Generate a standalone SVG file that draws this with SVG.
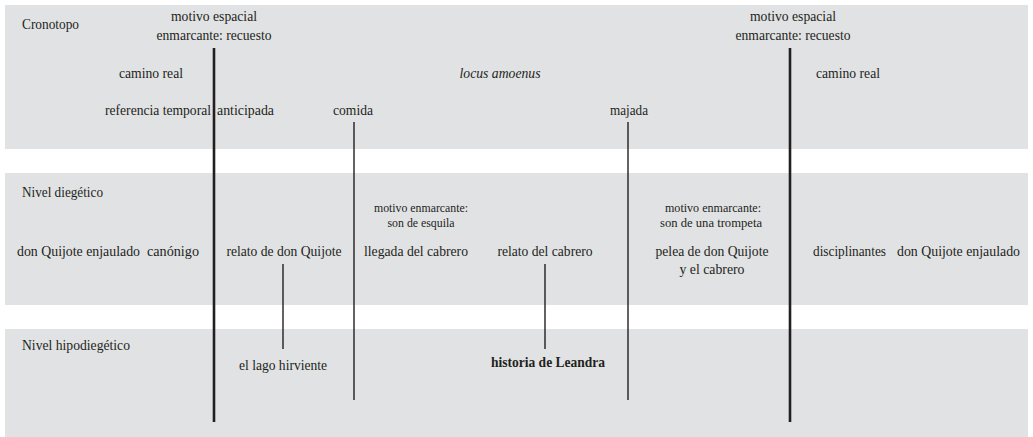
<svg xmlns="http://www.w3.org/2000/svg" width="1033" height="437" viewBox="0 0 1033 437">
<style>
  text { font-family: "Liberation Serif", "Times New Roman", serif; font-size: 14px; fill: #231f20; }
  .m { text-anchor: middle; }
  .s { font-size: 11.5px; }
  .i { font-style: italic; }
  .b { font-weight: bold; }
  .band { fill: #e1e2e4; }
  .thick { stroke: #231f20; stroke-width: 2.6; fill: none; }
  .thin { stroke: #231f20; stroke-width: 1.4; fill: none; }
</style>
<rect width="1033" height="437" fill="#ffffff"/>
<g id="bands">
  <rect class="band" x="5" y="5" width="1023" height="144"/>
  <rect class="band" x="5" y="173" width="1023" height="132"/>
  <rect class="band" x="5" y="329" width="1023" height="108"/>
</g>
<g id="connectors">
  <line class="thick" x1="214" y1="48" x2="214" y2="422"/>
  <line class="thick" x1="790" y1="48" x2="790" y2="422"/>
  <line class="thin" x1="354" y1="122" x2="354" y2="400"/>
  <line class="thin" x1="628" y1="122" x2="628" y2="400"/>
  <line class="thin" x1="283" y1="264" x2="283" y2="349"/>
  <line class="thin" x1="545" y1="264" x2="545" y2="349"/>
</g>
<g id="cronotopo-label"><text x="22" y="29" textLength="57" lengthAdjust="spacingAndGlyphs">Cronotopo</text></g>
<g id="recuesto-1"><text class="m" x="214" y="21" textLength="86" lengthAdjust="spacingAndGlyphs">motivo espacial</text><text class="m" x="214" y="40" textLength="115" lengthAdjust="spacingAndGlyphs">enmarcante: recuesto</text></g>
<g id="recuesto-2"><text class="m" x="793" y="21" textLength="86" lengthAdjust="spacingAndGlyphs">motivo espacial</text><text class="m" x="793" y="40" textLength="115" lengthAdjust="spacingAndGlyphs">enmarcante: recuesto</text></g>
<g id="camino-real-1"><text class="m" x="151" y="78" textLength="64" lengthAdjust="spacingAndGlyphs">camino real</text></g>
<g id="locus-amoenus"><text class="m i" x="500" y="78" textLength="81" lengthAdjust="spacingAndGlyphs">locus amoenus</text></g>
<g id="camino-real-2"><text class="m" x="848" y="78" textLength="64" lengthAdjust="spacingAndGlyphs">camino real</text></g>
<g id="referencia"><text x="105" y="115" textLength="106" lengthAdjust="spacingAndGlyphs">referencia temporal</text><text x="217" y="115" textLength="57" lengthAdjust="spacingAndGlyphs">anticipada</text></g>
<g id="comida"><text class="m" x="353" y="115" textLength="40" lengthAdjust="spacingAndGlyphs">comida</text></g>
<g id="majada"><text class="m" x="629" y="115" textLength="38" lengthAdjust="spacingAndGlyphs">majada</text></g>
<g id="diegetico-label"><text x="22" y="197" textLength="81" lengthAdjust="spacingAndGlyphs">Nivel diegético</text></g>
<g id="quijote-enjaulado-1"><text x="17" y="256" textLength="123" lengthAdjust="spacingAndGlyphs">don Quijote enjaulado</text></g>
<g id="canonigo"><text x="147" y="256" textLength="52" lengthAdjust="spacingAndGlyphs">canónigo</text></g>
<g id="relato-quijote"><text class="m" x="284" y="256" textLength="115" lengthAdjust="spacingAndGlyphs">relato de don Quijote</text></g>
<g id="esquila"><text class="m s" x="421" y="212" textLength="94" lengthAdjust="spacingAndGlyphs">motivo enmarcante:</text><text class="m s" x="421" y="227" textLength="67" lengthAdjust="spacingAndGlyphs">son de esquila</text></g>
<g id="llegada-cabrero"><text class="m" x="416" y="256" textLength="104" lengthAdjust="spacingAndGlyphs">llegada del cabrero</text></g>
<g id="relato-cabrero"><text class="m" x="545" y="256" textLength="95" lengthAdjust="spacingAndGlyphs">relato del cabrero</text></g>
<g id="trompeta"><text class="m s" x="713" y="212" textLength="96" lengthAdjust="spacingAndGlyphs">motivo enmarcante:</text><text class="m s" x="711" y="227" textLength="102" lengthAdjust="spacingAndGlyphs">son de una trompeta</text></g>
<g id="pelea"><text class="m" x="712" y="256" textLength="113" lengthAdjust="spacingAndGlyphs">pelea de don Quijote</text><text class="m" x="712" y="274" textLength="65" lengthAdjust="spacingAndGlyphs">y el cabrero</text></g>
<g id="disciplinantes"><text x="813" y="256" textLength="73" lengthAdjust="spacingAndGlyphs">disciplinantes</text></g>
<g id="quijote-enjaulado-2"><text x="897" y="256" textLength="123" lengthAdjust="spacingAndGlyphs">don Quijote enjaulado</text></g>
<g id="hipodiegetico-label"><text x="22" y="350" textLength="108" lengthAdjust="spacingAndGlyphs">Nivel hipodiegético</text></g>
<g id="lago-hirviente"><text class="m" x="283" y="370" textLength="88" lengthAdjust="spacingAndGlyphs">el lago hirviente</text></g>
<g id="historia-leandra"><text class="m b" x="548" y="367" textLength="114" lengthAdjust="spacingAndGlyphs">historia de Leandra</text></g>
</svg>
